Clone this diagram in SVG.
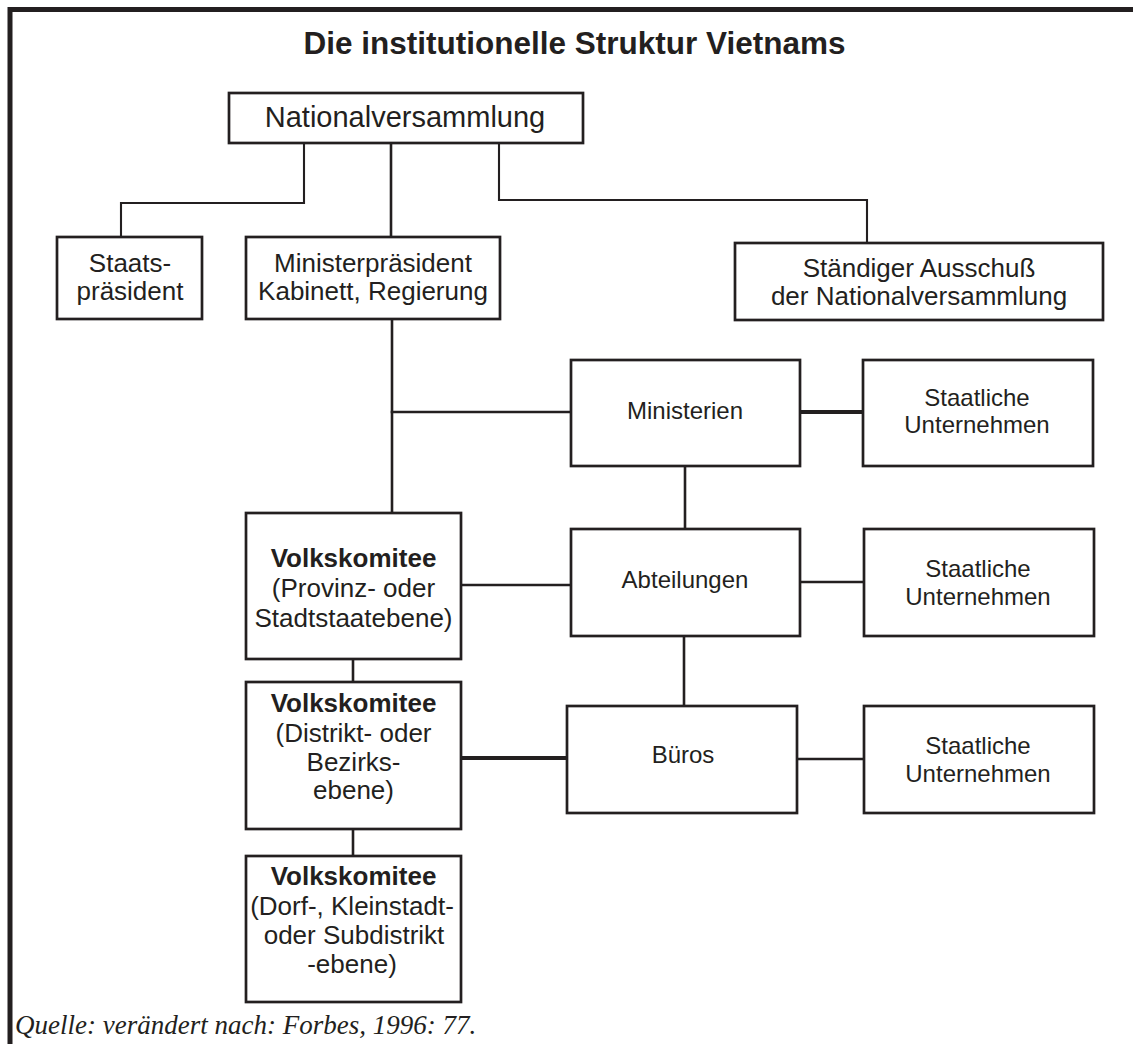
<svg xmlns="http://www.w3.org/2000/svg" width="1133" height="1044" viewBox="0 0 1133 1044">
<style>
.box{fill:#fff;stroke:#231f20;stroke-width:2.7}
.t{font-family:"Liberation Sans",Arial,sans-serif;fill:#231f20;text-anchor:middle}
.f26{font-size:26px}
.f24{font-size:24px}
.b{font-weight:bold}
.c{fill:none;stroke:#231f20;stroke-width:2.6;stroke-linecap:square}
.thin{stroke-width:2.1}
.thick{stroke-width:3.8}
</style>
<rect width="1133" height="1044" fill="#fff"/>
<path d="M10,1044 V9.5 H1133" fill="none" stroke="#231f20" stroke-width="5"/>
<text class="t b" x="574.5" y="54" font-size="31.5">Die institutionelle Struktur Vietnams</text>

<g id="connectors">
<path class="c thin" d="M304,143 V203 H121 V237"/>
<path class="c" d="M391,143 V237"/>
<path class="c thin" d="M499,143 V200 H867 V243"/>
<path class="c" d="M392,319 V513"/>
<path class="c" d="M392,412 H571"/>
<path class="c thick" d="M800,412 H863"/>
<path class="c" d="M685,466 V529"/>
<path class="c" d="M461,585 H571"/>
<path class="c" d="M800,582 H864"/>
<path class="c" d="M684,636 V706"/>
<path class="c thick" d="M461,758 H567"/>
<path class="c" d="M797,759 H864"/>
<path class="c" d="M353,659 V682"/>
<path class="c" d="M353,829 V856"/>
</g>

<g id="nationalversammlung">
<rect class="box" x="229" y="93" width="354" height="50"/>
<text class="t" x="405" y="127" font-size="29">Nationalversammlung</text>
</g>
<g id="staatspraesident">
<rect class="box" x="57" y="237" width="145" height="82"/>
<text class="t f26" x="130" y="272">Staats-</text>
<text class="t f26" x="130" y="300">präsident</text>
</g>
<g id="ministerpraesident">
<rect class="box" x="246" y="237" width="254" height="82"/>
<text class="t f26" x="373" y="272">Ministerpräsident</text>
<text class="t f26" x="373" y="300">Kabinett, Regierung</text>
</g>
<g id="staendiger-ausschuss">
<rect class="box" x="735" y="243" width="368" height="77"/>
<text class="t f26" x="919" y="277">Ständiger Ausschuß</text>
<text class="t f26" x="919" y="305">der Nationalversammlung</text>
</g>
<g id="ministerien">
<rect class="box" x="571" y="360" width="229" height="106"/>
<text class="t f24" x="685" y="419">Ministerien</text>
</g>
<g id="unternehmen1">
<rect class="box" x="863" y="360" width="230" height="106"/>
<text class="t f24" x="977" y="406">Staatliche</text>
<text class="t f24" x="977" y="433">Unternehmen</text>
</g>
<g id="abteilungen">
<rect class="box" x="571" y="529" width="229" height="107"/>
<text class="t f24" x="685" y="588">Abteilungen</text>
</g>
<g id="unternehmen2">
<rect class="box" x="864" y="529" width="230" height="107"/>
<text class="t f24" x="978" y="577">Staatliche</text>
<text class="t f24" x="978" y="605">Unternehmen</text>
</g>
<g id="bueros">
<rect class="box" x="567" y="706" width="230" height="107"/>
<text class="t f24" x="683" y="763">Büros</text>
</g>
<g id="unternehmen3">
<rect class="box" x="864" y="706" width="230" height="107"/>
<text class="t f24" x="978" y="754">Staatliche</text>
<text class="t f24" x="978" y="782">Unternehmen</text>
</g>
<g id="volkskomitee-provinz">
<rect class="box" x="246" y="513" width="215" height="146"/>
<text class="t f26 b" x="353.5" y="567">Volkskomitee</text>
<text class="t f26" x="353.5" y="597">(Provinz- oder</text>
<text class="t f26" x="353.5" y="627">Stadtstaatebene)</text>
</g>
<g id="volkskomitee-distrikt">
<rect class="box" x="246" y="682" width="215" height="147"/>
<text class="t f26 b" x="353.5" y="712">Volkskomitee</text>
<text class="t f26" x="353.5" y="742">(Distrikt- oder</text>
<text class="t f26" x="353.5" y="771">Bezirks-</text>
<text class="t f26" x="353.5" y="799">ebene)</text>
</g>
<g id="volkskomitee-dorf">
<rect class="box" x="246" y="856" width="215" height="146"/>
<text class="t f26 b" x="353.5" y="885">Volkskomitee</text>
<text class="t f26" x="352" y="915">(Dorf-, Kleinstadt-</text>
<text class="t f26" x="354" y="944">oder Subdistrikt</text>
<text class="t f26" x="352" y="973">-ebene)</text>
</g>
<text x="15" y="1034" font-family="'Liberation Serif','Times New Roman',serif" font-style="italic" font-size="27" fill="#231f20">Quelle: verändert nach: Forbes, 1996: 77.</text>
</svg>
